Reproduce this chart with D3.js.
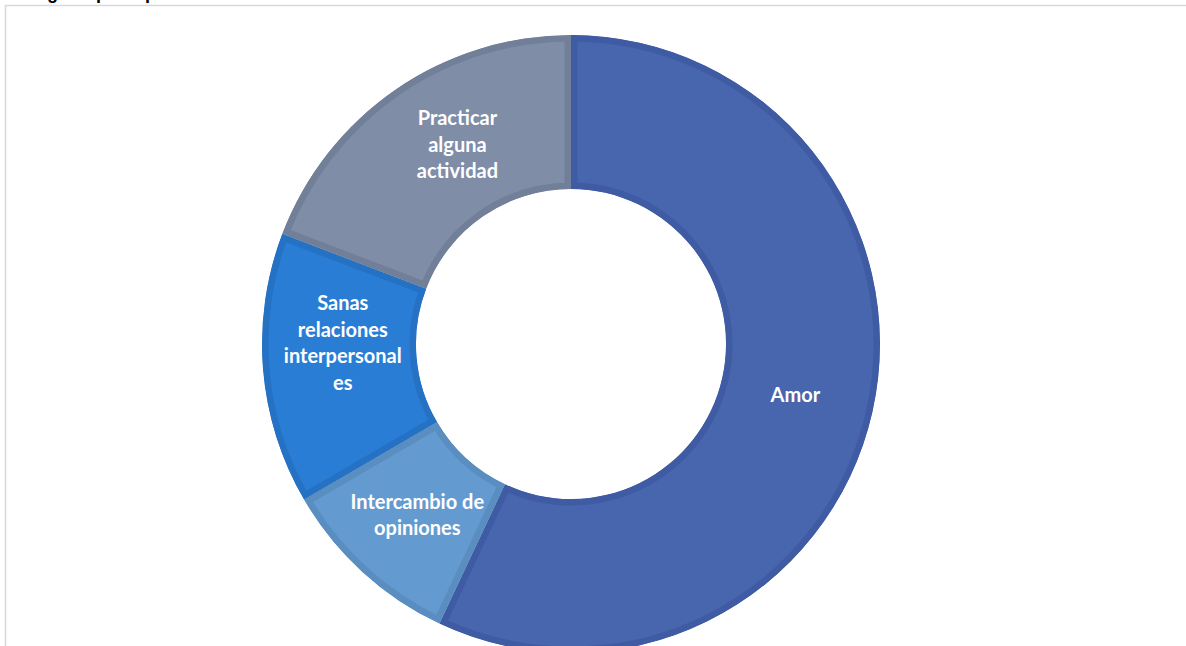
<!DOCTYPE html>
<html><head><meta charset="utf-8">
<script src="https://cdn.jsdelivr.net/npm/d3@7"></script>
<style>html,body{margin:0;padding:0;background:#fff;overflow:hidden}</style>
</head><body>
<svg id="c" width="1186" height="646"></svg>
<script>
const categories = ["Amor", "Intercambio de opiniones", "Sanas relaciones interpersonales", "Practicar alguna actividad"];
const values = [57, 9.6, 14.2, 19.2];
const labelLines = [["Amor"], ["Intercambio de", "opiniones"], ["Sanas", "relaciones", "interpersonal", "es"], ["Practicar", "alguna", "actividad"]];
const fills = ["#4866AE", "#639BD0", "#2A7DD5", "#7F8DA7"];
const strokes = ["#3F5BA3", "#5A8DC0", "#2571C4", "#717F98"];
const labelShift = [[-2,0],[3,0],[3,-20],[18,-8]];
const title = "Categoría principal de la felicidad";

const svg = d3.select("#c");
svg.append("text").attr("x", 8).attr("y", -1).attr("font-family","Arial, Liberation Sans, sans-serif")
  .attr("font-weight","bold").attr("font-size",18).attr("fill","#000").text(title);
svg.append("rect").attr("x",5.5).attr("y",5.5).attr("width",1300).attr("height",800)
  .attr("fill","none").attr("stroke","#d9d9d9").attr("stroke-width",1.5);

const cx = 571, cy = 344, R = 309, r = 155;
const pie = d3.pie().sort(null).value(d => d)(values);
const arc = d3.arc().innerRadius(r).outerRadius(R);
const g = svg.append("g").attr("transform", `translate(${cx},${cy})`);
const defs = svg.append("defs");
pie.forEach((p, i) => {
  defs.append("clipPath").attr("id", "cl" + i).append("path").attr("d", arc(p));
  g.append("path").attr("d", arc(p)).attr("fill", fills[i])
    .attr("stroke", strokes[i]).attr("stroke-width", 13).attr("clip-path", `url(#cl${i})`);
});
const lh = 26.5;
pie.forEach((p, i) => {
  const [x, y] = arc.centroid(p);
  const lines = labelLines[i];
  const t = g.append("text").attr("text-anchor","middle")
    .attr("font-family","Lato, 'Open Sans', sans-serif").attr("font-weight","bold")
    .attr("font-size",20).attr("fill","#fff");
  lines.forEach((ln, k) => {
    t.append("tspan").attr("x", x + labelShift[i][0])
      .attr("y", y + labelShift[i][1] + (k - (lines.length - 1) / 2) * lh + 7).text(ln);
  });
});
</script>
</body></html>
